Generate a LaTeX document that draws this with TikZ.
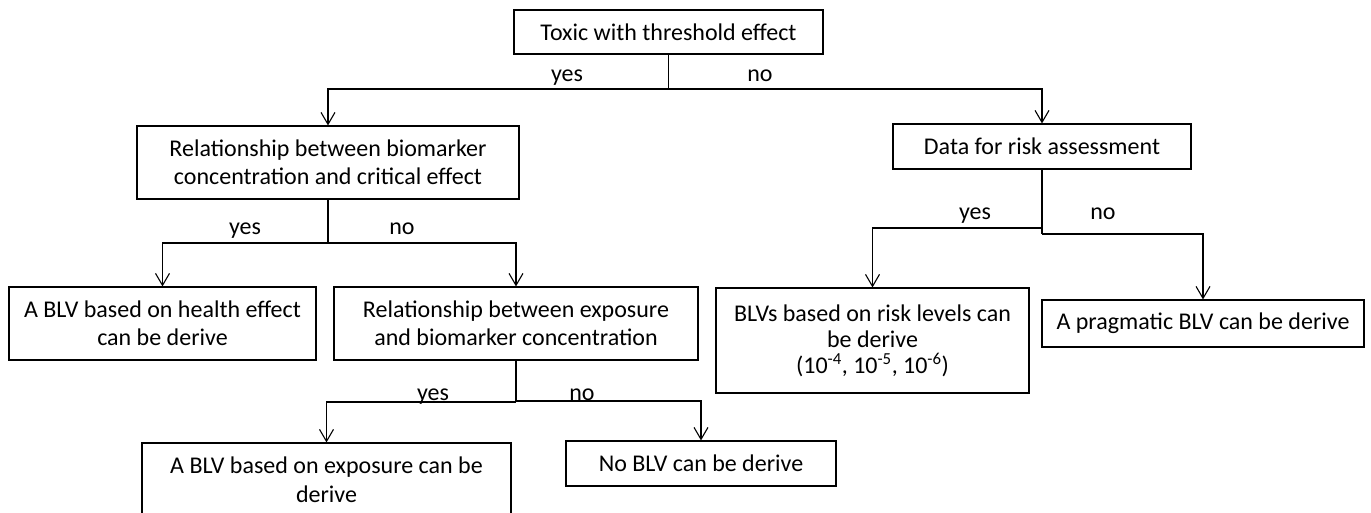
\documentclass[tikz,border=0pt]{standalone}
\usepackage{fontspec}
\setmainfont{Carlito}
\usetikzlibrary{arrows.meta}
\begin{document}
\begin{tikzpicture}[x=1pt,y=1pt,
  box/.style={draw, line width=1.1pt, rectangle, inner sep=0pt, align=center,
    font=\fontsize{24}{28.5}\selectfont},
  lbl/.style={anchor=base, inner sep=0pt, font=\fontsize{24}{28.5}\selectfont},
  conn/.style={line width=1.1pt},
  arr/.style={line width=1.1pt, -{Straight Barb[length=12pt,width=14pt,line width=1.1pt]}}]
\clip (0,0) rectangle (1371,-513);
\fill[white] (0,0) rectangle (1371,-513);
% boxes
\node[box, minimum width=309pt, minimum height=44pt] (top) at (668.5,-32) {Toxic with threshold effect};
\node[box, minimum width=382pt, minimum height=73pt] (rbc) at (328,-162.5) {Relationship between biomarker\\concentration and critical effect};
\node[box, minimum width=298pt, minimum height=45pt] (data) at (1042,-146.5) {Data for risk assessment};
\node[box, minimum width=307pt, minimum height=73pt] (health) at (162.5,-323.5) {A BLV based on health effect\\can be derive};
\node[box, minimum width=364pt, minimum height=73pt] (rexp) at (516,-323.5) {Relationship between exposure\\and biomarker concentration};
\node[box, minimum width=313pt, minimum height=105pt, font=\fontsize{24}{26}\selectfont] (blvs) at (872.5,-340.5) {BLVs based on risk levels can\\be derive\\(10\textsuperscript{-4}, 10\textsuperscript{-5}, 10\textsuperscript{-6})};
\node[box, minimum width=322pt, minimum height=47pt] (prag) at (1203,-323.5) {A pragmatic BLV can be derive};
\node[box, minimum width=369pt, minimum height=73pt] (expo) at (326.5,-479.5) {A BLV based on exposure can be\\derive};
\node[box, minimum width=270pt, minimum height=45pt] (noblv) at (701,-463.5) {No BLV can be derive};
% junctions
\coordinate (j1) at (668.5,-89);
\coordinate (j2) at (328,-243);
\coordinate (jd1) at (1042,-228);
\coordinate (jd2) at (1042,-234);
\coordinate (je1) at (516,-402);
\coordinate (je2) at (516,-401);
% connectors
\draw[conn] (top.south) -- (j1);
\draw[arr] (j1) -| (rbc.north);
\draw[arr] (j1) -| (data.north);
\draw[conn] (rbc.south) -- (j2);
\draw[arr] (j2) -| (health.north);
\draw[arr] (j2) -| (rexp.north);
\draw[conn] (data.south) -- (jd2);
\draw[arr] (jd1) -| (blvs.north);
\draw[arr] (jd2) -| (prag.north);
\draw[conn] (rexp.south) -- (je1);
\draw[arr] (je1) -| (expo.north);
\draw[arr] (je2) -| (noblv.north);
% labels
\node[lbl] (l1) at (567,-82) {yes};
\node[lbl] (l2) at (760,-82) {no};
\node[lbl] (l3) at (245,-235) {yes};
\node[lbl] (l4) at (402,-235) {no};
\node[lbl] (l5) at (433,-400) {yes};
\node[lbl] (l6) at (582,-400) {no};
\node[lbl] (l7) at (975,-220) {yes};
\node[lbl] (l8) at (1103,-220) {no};
\end{tikzpicture}
\end{document}
